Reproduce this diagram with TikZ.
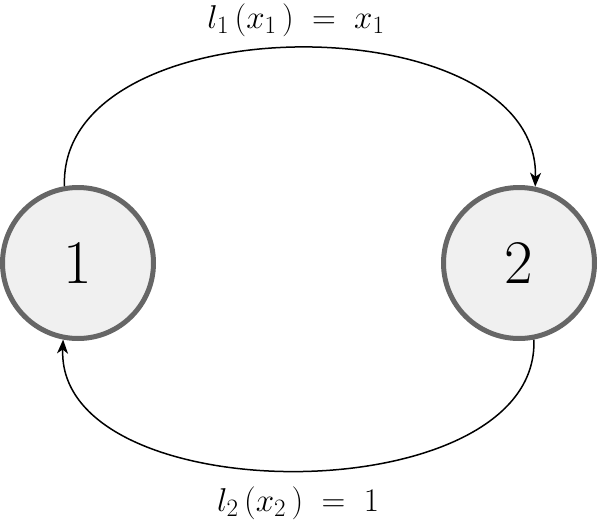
\RequirePackage{fix-cm}
\documentclass[tikz,border=0pt]{standalone}
\usetikzlibrary{arrows.meta}
\DeclareMathSizes{33}{33}{25}{18}
\begin{document}
\begin{tikzpicture}[x=1pt,y=-1pt,
  state/.style={circle,draw=black!60,fill=black!6,line width=5pt,minimum size=151pt,inner sep=0pt,font=\fontsize{62}{70}\selectfont},
  link/.style={line width=1.5pt,-{Stealth[length=14pt,width=11pt,inset=4pt]}},
  lab/.style={inner sep=0pt,font=\fontsize{33}{40}\selectfont}]
\useasboundingbox (0,0) rectangle (598,528);
\node[state] (n1) at (78,263) {1};
\node[state] (n2) at (519,263) {2};
\node[lab] (t1) at (296,20) {$l_{1}\,(x_{1}\mkern3mu)\;=\;x_{1}$};
\node[lab] (t2) at (298,503) {$l_{2}\,(x_{2}\mkern3mu)\;=\;1$};
\draw[link] (n1.100) .. controls (58,2) and (540,2) .. (n2.78);
\draw[link] (n2.-79) .. controls (540,514) and (56,514) .. (n1.-101);
\end{tikzpicture}
\end{document}
